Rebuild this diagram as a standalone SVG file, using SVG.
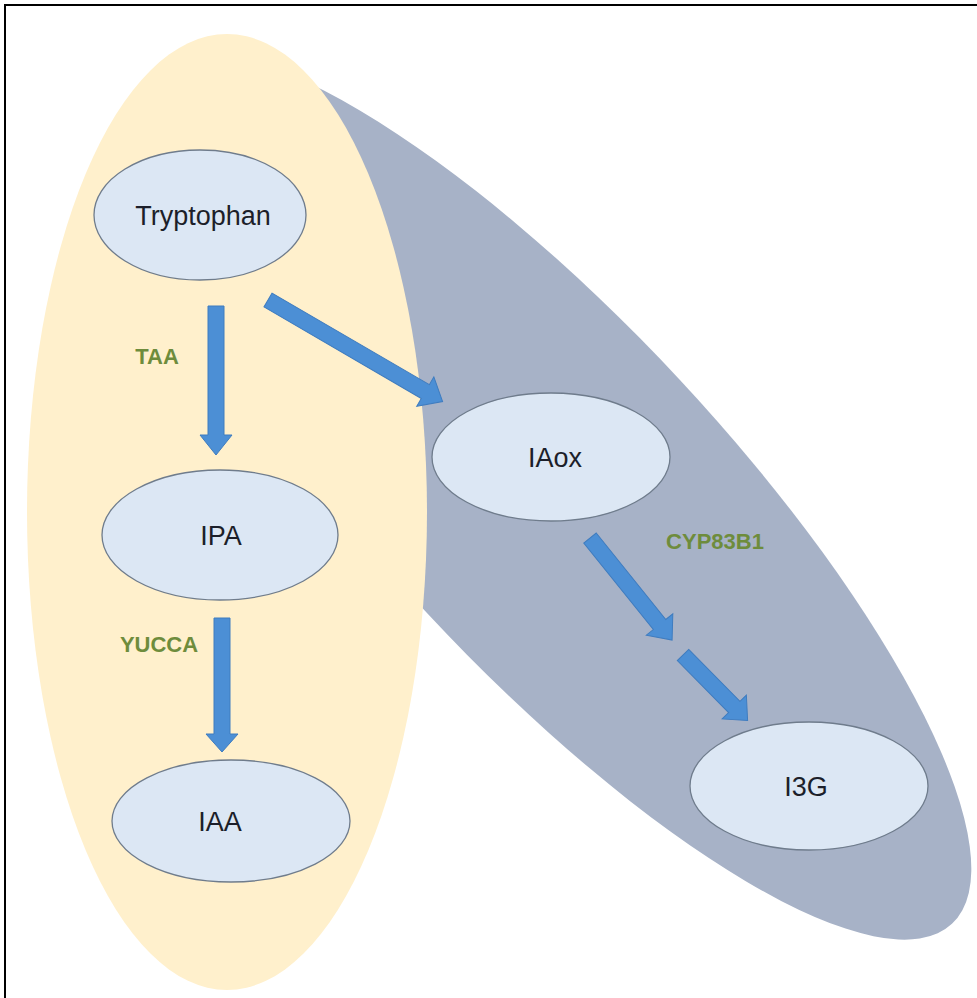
<svg xmlns="http://www.w3.org/2000/svg" width="977" height="998" viewBox="0 0 977 998">
<style>
.node{fill:#dce7f4;stroke:#6f7c8c;stroke-width:1.3}
.ntxt{font-family:"Liberation Sans",Arial,sans-serif;font-size:27px;fill:#1c1f2a;text-anchor:middle}
.lbl{font-family:"Liberation Sans",Arial,sans-serif;font-size:22px;font-weight:bold;fill:#6e8c3c;text-anchor:middle}
.arr{fill:#4c8fd5;stroke:#3f7cbf;stroke-width:1}
</style>
<rect x="0" y="0" width="977" height="998" fill="#ffffff"/>
<rect x="5" y="5" width="1000" height="1000" fill="none" stroke="#000" stroke-width="2"/>
<g id="regions">
<ellipse id="gray-region" cx="553" cy="496" rx="585" ry="172" transform="rotate(47 553 496)" fill="#a7b2c7"/>
<ellipse id="yellow-region" cx="227" cy="512" rx="200" ry="478" fill="#fff0cc"/>
</g>
<g id="connectors">
<polygon class="arr" transform="translate(216 306) rotate(90)" points="0,-8 129,-8 129,-16 149,0 129,16 129,8 0,8"/>
<polygon class="arr" transform="translate(222 618) rotate(90)" points="0,-8 116,-8 116,-16 134,0 116,16 116,8 0,8"/>
<polygon class="arr" transform="translate(268 300) rotate(30.2)" points="0,-8 182,-8 182,-17 202,0 182,17 182,8 0,8"/>
<polygon class="arr" transform="translate(590 538) rotate(51.2)" points="0,-8 111,-8 111,-17 131,0 111,17 111,8 0,8"/>
<polygon class="arr" transform="translate(683 655) rotate(45.4)" points="0,-8 73,-8 73,-17 92,0 73,17 73,8 0,8"/>
</g>
<g id="labels">
<text class="lbl" x="157" y="364">TAA</text>
<text class="lbl" x="159" y="652" font-size="23">YUCCA</text>
<text class="lbl" x="715" y="549" font-size="24">CYP83B1</text>
</g>
<g id="node-tryptophan">
<ellipse class="node" cx="200" cy="215" rx="106" ry="65"/>
<text class="ntxt" x="203" y="225">Tryptophan</text>
</g>
<g id="node-ipa">
<ellipse class="node" cx="220" cy="535" rx="118" ry="65"/>
<text class="ntxt" x="221" y="545">IPA</text>
</g>
<g id="node-iaa">
<ellipse class="node" cx="231" cy="821" rx="119" ry="61"/>
<text class="ntxt" x="220" y="831">IAA</text>
</g>
<g id="node-iaox">
<ellipse class="node" cx="551" cy="457" rx="119" ry="64"/>
<text class="ntxt" x="555" y="467">IAox</text>
</g>
<g id="node-i3g">
<ellipse class="node" cx="809" cy="786" rx="119" ry="64"/>
<text class="ntxt" x="806" y="796">I3G</text>
</g>
</svg>
